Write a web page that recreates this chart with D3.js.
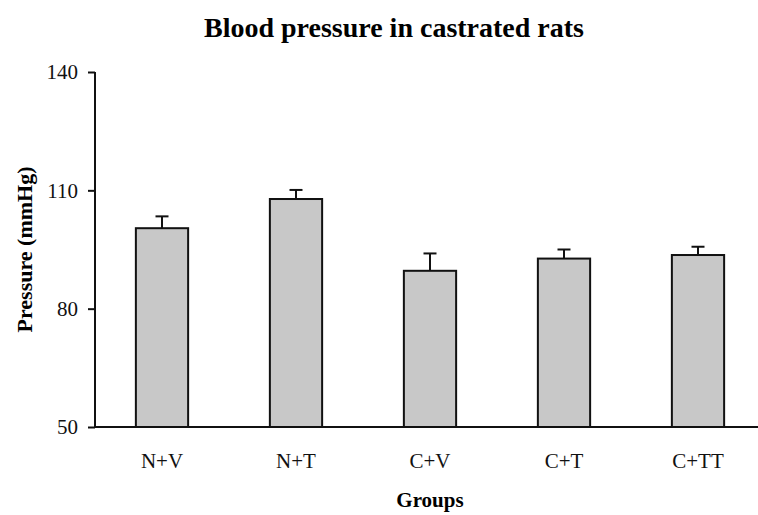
<!DOCTYPE html>
<meta charset="utf-8">
<head>
  <style>
    body { margin: 0; background: #fff; font-family: "Liberation Serif", "Times New Roman", serif; }
    .axis text { font-family: "Liberation Serif", serif; font-size: 21px; fill: #111; }
  </style>
  <script src="https://d3js.org/d3.v7.min.js"></script>
</head>
<body>
<div id="chart"></div>
<script>
  // *** data
  var groups = ["N+V", "N+T", "C+V", "C+T", "C+TT"];
  var pressure = [100.4, 107.8, 89.6, 92.7, 93.6];
  var sem = [3.0, 2.3, 4.4, 2.3, 2.1];
  var yTicks = [50, 80, 110, 140];

  var width = 758, height = 515;
  var plotLeft = 95, plotTop = 72, plotBottom = 427;

  var svg = d3.select("#chart").append("svg")
    .attr("width", width)
    .attr("height", height);

  var x = d3.scaleBand()
    .domain(groups)
    .range([plotLeft, 765])
    .paddingInner(0.61)
    .paddingOuter(0.305);

  var y = d3.scaleLinear()
    .domain([50, 140])
    .range([plotBottom, plotTop]);

  // bars
  svg.selectAll(".bar")
    .data(groups)
    .enter().append("rect")
    .attr("class", "bar")
    .attr("x", function(d) { return x(d); })
    .attr("width", x.bandwidth())
    .attr("y", function(d, i) { return y(pressure[i]); })
    .attr("height", function(d, i) { return y(50) - y(pressure[i]); })
    .style("fill", "#c8c8c8")
    .style("stroke", "#111")
    .style("stroke-width", 2);

  // error bars (upper only)
  var err = svg.selectAll(".err")
    .data(groups)
    .enter().append("g")
    .attr("class", "err")
    .style("stroke", "#111")
    .style("stroke-width", 2);

  err.append("line")
    .attr("x1", function(d) { return x(d) + x.bandwidth() / 2; })
    .attr("x2", function(d) { return x(d) + x.bandwidth() / 2; })
    .attr("y1", function(d, i) { return y(pressure[i]); })
    .attr("y2", function(d, i) { return y(pressure[i] + sem[i]); });

  err.append("line")
    .attr("x1", function(d) { return x(d) + x.bandwidth() / 2 - 6.5; })
    .attr("x2", function(d) { return x(d) + x.bandwidth() / 2 + 6.5; })
    .attr("y1", function(d, i) { return y(pressure[i] + sem[i]); })
    .attr("y2", function(d, i) { return y(pressure[i] + sem[i]); });

  // y axis
  var yAxis = svg.append("g")
    .attr("class", "axis")
    .attr("transform", "translate(" + plotLeft + ",0)")
    .call(d3.axisLeft(y).tickValues(yTicks).tickSize(7).tickPadding(10));
  yAxis.selectAll("path, line").style("stroke", "#111").style("stroke-width", 2);
  yAxis.select(".domain").attr("d", "M0," + plotTop + "V" + plotBottom);

  // x axis: baseline with labels, no ticks
  var xAxis = svg.append("g")
    .attr("class", "axis")
    .attr("transform", "translate(0," + plotBottom + ")")
    .call(d3.axisBottom(x).tickSize(0).tickPadding(26));
  xAxis.select(".domain").attr("d", "M" + plotLeft + ",0H" + width)
    .style("stroke", "#111").style("stroke-width", 2);

  // title and axis titles
  svg.append("text")
    .attr("x", 394)
    .attr("y", 37)
    .attr("text-anchor", "middle")
    .style("font-weight", "bold")
    .style("font-size", "28px")
    .text("Blood pressure in castrated rats");

  svg.append("text")
    .attr("x", 430)
    .attr("y", 507)
    .attr("text-anchor", "middle")
    .style("font-weight", "bold")
    .style("font-size", "21px")
    .text("Groups");

  svg.append("text")
    .attr("transform", "translate(32," + ((plotTop + plotBottom) / 2) + ") rotate(-90)")
    .attr("text-anchor", "middle")
    .style("font-weight", "bold")
    .style("font-size", "22px")
    .text("Pressure (mmHg)");
</script>
</body>
